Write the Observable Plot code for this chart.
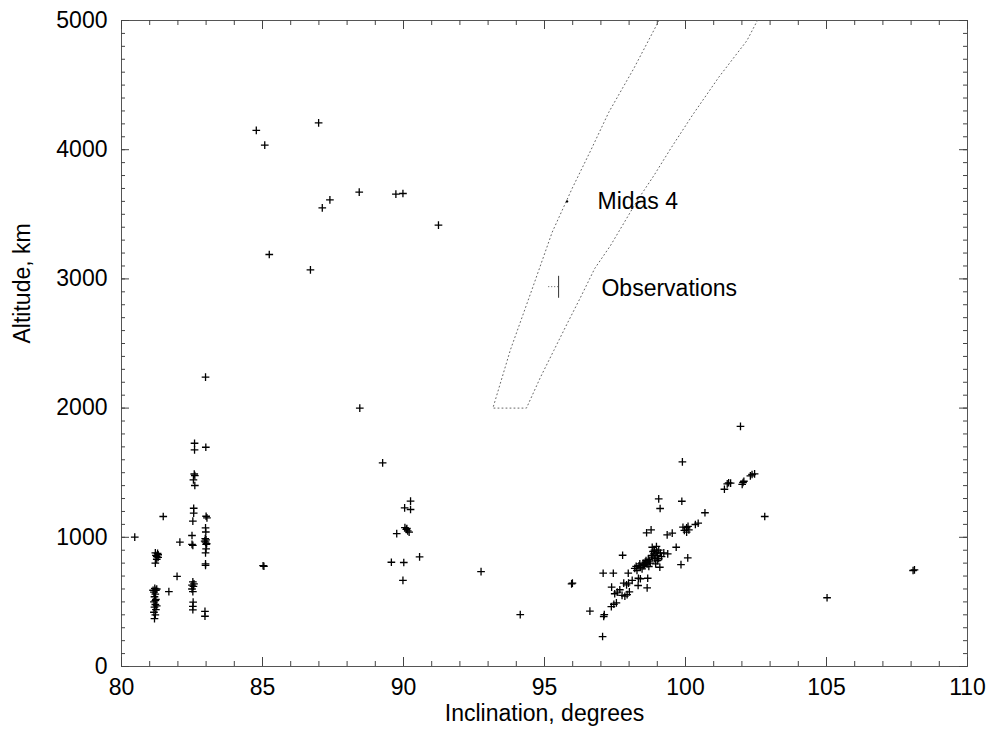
<!DOCTYPE html>
<html><head><meta charset="utf-8">
<script src="https://cdn.jsdelivr.net/npm/d3@7"></script>
<script src="https://cdn.jsdelivr.net/npm/@observablehq/plot@0.6"></script>
<style>body{margin:0;background:#fff;} #chart{width:991px;height:733px;}</style>
</head><body><div id="chart"></div>
<script>
// ---- Data ----
const satInclination = [
  84.78,85.08,86.99,88.43,87.39,87.12,89.73,89.98,91.24,85.24,86.70,88.45,89.26,
  90.04,90.25,90.25,90.05,90.10,90.15,90.20,90.12,89.76,89.57,90.01,90.57,89.98,92.75,94.14,
  95.96,95.99,96.61,97.06,97.10,97.12,97.08,97.44,97.38,97.37,97.46,97.55,97.49,97.58,97.67,97.75,97.85,97.93,98.01,97.81,97.91,97.98,98.11,97.77,97.97,98.32,98.66,98.64,98.33,98.40,
  98.28,98.40,98.52,98.64,98.73,98.82,98.88,98.99,99.11,99.05,98.94,98.82,98.97,99.23,99.37,99.09,98.38,98.46,98.58,98.70,98.91,
  98.20,98.25,98.35,98.50,98.55,98.60,98.68,98.75,98.80,98.85,98.90,99.00,99.05,99.15,99.00,98.95,
  98.62,98.78,99.05,99.10,99.35,99.53,99.67,99.84,100.08,99.89,99.87,
  99.91,100.04,99.96,100.09,100.04,100.12,100.35,100.45,100.69,101.38,101.48,101.53,101.60,102.01,102.04,102.07,102.30,102.36,102.45,101.95,102.81,105.02,108.07,108.12,
  80.47,
  81.17,81.20,81.15,81.22,81.17,81.20,81.15,81.22,81.17,81.20,81.15,81.22,81.18,81.25,81.12,81.20,81.25,
  81.20,81.25,81.25,81.30,81.20,81.30,81.22,81.28,
  81.48,82.07,81.97,81.68,
  82.60,82.55,82.60,82.58,82.56,82.56,82.53,82.50,82.53,82.50,82.53,82.50,82.55,82.57,82.50,82.53,82.54,82.53,82.53,82.59,82.59,
  82.98,82.99,83.00,83.03,82.98,82.99,82.98,83.00,82.95,83.02,82.97,83.00,83.00,82.98,82.98,82.98,82.96,82.96,
  85.05,85.02
];
const satAltitude = [
  4149,4035,4208,3671,3612,3550,3656,3661,3416,3189,3070,2000,1576,
  1228,1280,1215,1075,1062,1050,1040,1068,1029,807,805,849,666,735,402,
  640,645,428,232,387,402,722,722,614,464,482,493,563,575,594,550,544,557,578,645,632,645,666,861,722,627,683,609,683,679,
  743,768,782,795,815,846,872,885,877,834,795,923,929,880,872,768,795,756,807,774,834,
  760,775,780,800,790,820,830,800,860,890,900,860,900,850,820,860,
  1035,1058,1298,1223,1019,1032,923,789,841,1584,1279,
  1078,1074,1053,1084,1040,1058,1099,1109,1190,1372,1414,1422,1419,1409,1424,1434,1476,1486,1491,1858,1161,532,743,748,
  1001,
  370,400,420,440,460,480,500,520,540,560,575,590,605,600,590,510,470,
  800,830,850,865,880,845,860,875,
  1161,962,697,580,
  1478,1445,1401,1490,1225,1187,1125,1014,937,945,580,600,620,640,630,655,498,465,439,1728,1677,
  2240,1697,1163,1150,1073,1041,962,980,970,950,990,945,911,880,795,782,426,389,
  776,780
];

// Midas 4 visibility band (dotted outline)
const bandLeftIncl  = [99.06,98.17,97.28,96.63,95.98,95.27,94.56,93.79,93.17];
const bandLeftAlt   = [5000,4630,4290,3990,3700,3360,2920,2450,2000];
const bandRightIncl = [94.36,94.86,95.33,95.80,96.28,96.78,97.34,97.70,98.29,98.88,99.47,100.24,101.18,102.18,102.55];
const bandRightAlt  = [2000,2240,2446,2652,2858,3080,3258,3390,3607,3800,4007,4265,4561,4845,5000];

// Midas 4 point and observation error bar
const midasIncl = [95.8], midasAlt = [3600];
const obsIncl = 95.5, obsInclLow = 95.15, obsAltLow = 2850, obsAltHigh = 3020, obsAlt = 2940;

// Annotations
const annotText = ["Midas 4", "Observations"];
const annotIncl = [96.88, 97.02];
const annotAlt  = [3600, 2926];

// Axes
const xTickLabels = [80,85,90,95,100,105,110];
const yTickLabels = [0,1000,2000,3000,4000,5000];
const xMinorTicks = d3.range(80,111,1);
const yMinorTicks = d3.range(0,5001,100);
const xLabel = "Inclination, degrees";
const yLabel = "Altitude, km";

// ---- Build ----
const W=991, H=733, mL=121, mR=24, mT=20, mB=67;
const plotH = H - mT - mB, plotW = W - mL - mR;

const sats = satInclination.map((x,i)=>({x, y: satAltitude[i]}));
const band = [
  ...bandLeftIncl.map((x,i)=>({x, y: bandLeftAlt[i]})),
  ...bandRightIncl.map((x,i)=>({x, y: bandRightAlt[i]}))
];
const midas = midasIncl.map((x,i)=>({x, y: midasAlt[i]}));
const annots = annotText.map((t,i)=>({t, x: annotIncl[i], y: annotAlt[i]}));
const tickColor = "#444";

const chart = Plot.plot({
  width: W, height: H,
  marginLeft: mL, marginRight: mR, marginTop: mT, marginBottom: mB,
  style: {fontFamily: "'Liberation Sans', Arial, Helvetica, sans-serif", fontSize: "23px", color: "#000", background: "#fff", overflow: "visible"},
  x: {domain: [80,110]},
  y: {domain: [0,5000]},
  marks: [
    Plot.frame({stroke: "#555", strokeWidth: 1}),
    // inward ticks: bottom / top
    Plot.tickX(xMinorTicks, {x: d=>d, insetTop: plotH - 5, stroke: tickColor}),
    Plot.tickX(xTickLabels, {x: d=>d, insetTop: plotH - 9, stroke: tickColor}),
    Plot.tickX(xMinorTicks, {x: d=>d, insetBottom: plotH - 5, stroke: tickColor}),
    Plot.tickX(xTickLabels, {x: d=>d, insetBottom: plotH - 9, stroke: tickColor}),
    // inward ticks: left / right
    Plot.tickY(yMinorTicks, {y: d=>d, insetRight: plotW - 4, stroke: tickColor}),
    Plot.tickY(yTickLabels, {y: d=>d, insetRight: plotW - 8, stroke: tickColor}),
    Plot.tickY(yMinorTicks, {y: d=>d, insetLeft: plotW - 4, stroke: tickColor}),
    Plot.tickY(yTickLabels, {y: d=>d, insetLeft: plotW - 8, stroke: tickColor}),
    Plot.axisX(xTickLabels, {tickSize: 0, tickPadding: 12, fontSize: 23, label: null, tickFormat: d=>String(d)}),
    Plot.axisY(yTickLabels, {tickSize: 0, tickPadding: 14, fontSize: 23, label: null, tickFormat: d=>String(d)}),
    Plot.text([xLabel], {frameAnchor: "bottom", dy: 54, text: d=>d, fontSize: 23}),
    Plot.text([yLabel], {frameAnchor: "left", dx: -99, rotate: -90, text: d=>d, fontSize: 23}),
    // band
    Plot.line(band, {x: "x", y: "y", stroke: "#666", strokeWidth: 1, strokeDasharray: "1,3"}),
    // observation error bar
    Plot.ruleX([obsIncl], {x: d=>d, y1: obsAltLow, y2: obsAltHigh, stroke: "#333", strokeWidth: 1}),
    Plot.ruleY([obsAlt], {y: d=>d, x1: obsInclLow, x2: obsIncl, stroke: "#555", strokeWidth: 1, strokeDasharray: "1,2"}),
    // satellites
    Plot.dot(sats, {x: "x", y: "y", symbol: "plus", r: 2.6, stroke: "#000", strokeWidth: 1.3}),
    Plot.dot(midas, {x: "x", y: "y", r: 1.2, fill: "#000", stroke: null}),
    Plot.text(annots, {x: "x", y: "y", text: "t", textAnchor: "start", fontSize: 23, fill: "#000"})
  ]
});
document.getElementById("chart").appendChild(chart);
</script>
</body></html>
